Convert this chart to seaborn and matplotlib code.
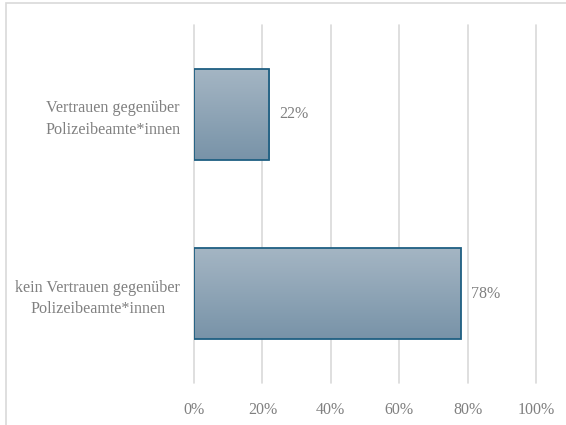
import numpy as np
import pandas as pd
import matplotlib
matplotlib.use("Agg")
import matplotlib.pyplot as plt
import seaborn as sns
from matplotlib.patches import Rectangle
from matplotlib.colors import LinearSegmentedColormap

categories = ["Vertrauen gegenüber\nPolizeibeamte*innen",
              "kein Vertrauen gegenüber\nPolizeibeamte*innen"]
values = [22, 78]
value_labels = ["22%", "78%"]
tick_values = [0, 20, 40, 60, 80, 100]
tick_labels = ["0%", "20%", "40%", "60%", "80%", "100%"]

sns.set_theme(style="white")
plt.rcParams['font.family'] = ['Liberation Serif', 'DejaVu Serif']

df = pd.DataFrame({"cat": categories, "val": values})

fig = plt.figure(figsize=(5.66, 4.25), dpi=100)
ax = fig.add_axes([194/566, 1-383/425, (536-194)/566, (383-25)/425])

sns.barplot(data=df, y="cat", x="val", ax=ax, width=0.51,
            color="#8aa2b5", edgecolor="#1f5f82", linewidth=1.3,
            orient="h", zorder=3)

cmap = LinearSegmentedColormap.from_list("g", ["#a5b6c4", "#7893a8"])
grad = np.linspace(0, 1, 256).reshape(-1, 1)
for p in ax.patches:
    x0, y0 = p.get_x(), p.get_y()
    w, h = p.get_width(), p.get_height()
    im = ax.imshow(grad, cmap=cmap, aspect="auto",
                   extent=[x0, x0 + w, y0 + h, y0], origin="upper", zorder=2.5)
    im.set_clip_path(p)
    p.set_facecolor("none")

ax.set_xlim(0, 100)
ax.set_ylim(1.5, -0.5)
ax.set_xticks(tick_values)
ax.set_xticklabels(tick_labels)
ax.set_xlabel("")
ax.set_ylabel("")
ax.tick_params(axis="x", colors="#808080", labelsize=11.5, length=0, pad=14)
ax.tick_params(axis="y", colors="#808080", labelsize=11.6, length=0, pad=10)
for lab in ax.get_yticklabels():
    lab.set_multialignment("center")
    lab.set_linespacing(1.45)
ax.grid(axis="x", color="#d9d9d9", linewidth=1.2, zorder=0)
for gl in ax.get_xgridlines():
    gl.set_clip_on(False)
ax.grid(axis="y", visible=False)
for s in ax.spines.values():
    s.set_visible(False)

for i, (v, t) in enumerate(zip(values, value_labels)):
    ax.text(v + 2.9, i, t, va="center", ha="left", color="#808080", fontsize=11.5)

fig.patches.append(Rectangle((6/566, -0.1), 1.2, 1 - 3/425 + 0.1,
                             transform=fig.transFigure, fill=False,
                             edgecolor="#d9d9d9", linewidth=1.2))

fig.savefig("out.png", dpi=100)
